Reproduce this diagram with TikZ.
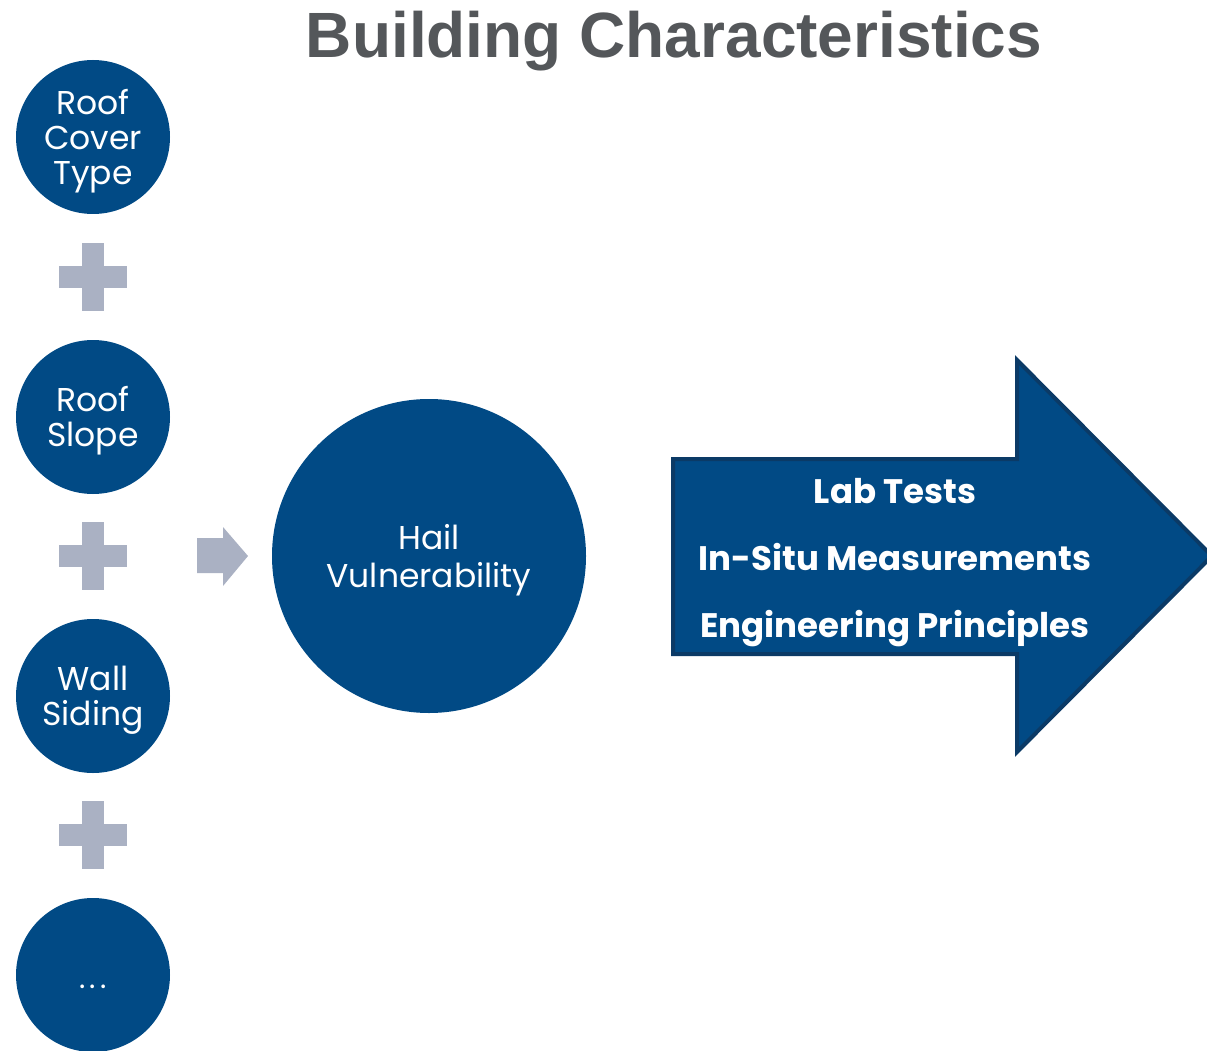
\documentclass[tikz,border=0pt]{standalone}
\usepackage{fontspec}
\newfontfamily\labelfont{Poppins}
\newfontfamily\titlefont{Liberation Sans}
\definecolor{circblue}{HTML}{014A85}
\definecolor{edgeblue}{HTML}{0B3A66}
\definecolor{plusgrey}{HTML}{AAB1C3}
\definecolor{titlegrey}{HTML}{54575A}
\begin{document}
\begin{tikzpicture}[x=1pt,y=-1pt,
  factor/.style={circle,fill=circblue,minimum size=154pt,inner sep=0pt,
    text=white,align=center,font=\labelfont\fontsize{33}{35}\selectfont},
  result/.style={circle,fill=circblue,minimum size=314pt,inner sep=0pt,
    text=white,align=center,font=\labelfont\fontsize{33}{38}\selectfont},
  plussign/.style={fill=plusgrey},
  bigarrow/.style={fill=circblue,draw=edgeblue,line width=4pt,line join=miter},
  arrowtext/.style={text=white,font=\labelfont\bfseries\fontsize{34}{35}\selectfont,inner sep=0pt},
  headline/.style={text=titlegrey,font=\titlefont\bfseries\fontsize{64}{66}\selectfont,inner sep=0pt}]
\useasboundingbox (0,0) rectangle (1207,1051);
\clip (0,0) rectangle (1207,1051);

% title
\node[headline,anchor=base] (title) at (674,58) {Building Characteristics};

% column of building factors
\node[factor] (roofcover) at (93,137) {};
\node[factor] (roofslope) at (93,417) {};
\node[factor] (wall) at (93,696) {};
\node[factor] (more) at (93,975) {};
\node[text=white,align=center,font=\labelfont\fontsize{33}{35}\selectfont] (roofcovertxt) at (93,141) {Roof\\Cover\\Type};
\node[text=white,align=center,font=\labelfont\fontsize{33}{35}\selectfont] (roofslopetxt) at (93,421) {Roof\\Slope};
\node[text=white,align=center,font=\labelfont\fontsize{33}{35}\selectfont] (walltxt) at (93,700) {Wall\\Siding};
\node[text=white,anchor=base,inner sep=0pt,font=\labelfont\fontsize{30}{30}\selectfont] (moretxt) at (93,988) {.\kern4pt.\kern4pt.};

% plus signs between the factors
\foreach \py in {277,556,835}{
  \fill[plussign] (59,\py-11) rectangle (127,\py+11);
  \fill[plussign] (82,\py-34) rectangle (104,\py+34);
}

% small arrow towards the result
\fill[plussign] (197,538) -- (223,538) -- (223,527) -- (248,556)
  -- (223,586) -- (223,573) -- (197,573) -- cycle;

% resulting vulnerability
\node[result] (hail) at (429,556) {};
\node[text=white,align=center,font=\labelfont\fontsize{33}{38}\selectfont] (hailtxt) at (429,560) {Hail\\Vulnerability};

% large block arrow with the sources
\draw[bigarrow] (673,459) -- (1017,459) -- (1017,360) -- (1212,556)
  -- (1017,752) -- (1017,654) -- (673,654) -- cycle;
\node[arrowtext,anchor=base] (lab) at (895,503) {Lab Tests};
\node[arrowtext,anchor=base] (insitu) at (895,570) {In-Situ Measurements};
\node[arrowtext,anchor=base] (eng) at (895,637) {Engineering Principles};
\end{tikzpicture}
\end{document}
